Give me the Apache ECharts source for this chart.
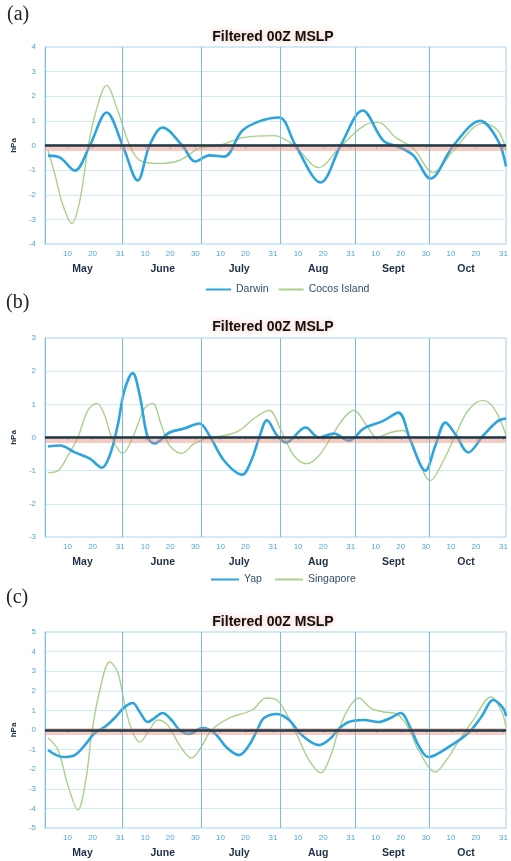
<!DOCTYPE html>
<html>
<head>
<meta charset="utf-8">
<script src="https://cdn.jsdelivr.net/npm/echarts@6.0.0/dist/echarts.min.js"></script>
<style>
html,body{margin:0;padding:0;background:#fff;}
#main{width:511px;height:861px;}
</style>
</head>
<body>
<div id="main"></div>
<script>
// day 0 = 1 May
var tickDays   = [9,19,30, 40,50,60, 70,80,91, 101,111,122, 132,142,152, 162,172,183];
var tickLabels = ['10','20','31','10','20','30','10','20','31','10','20','31','10','20','30','10','20','31'];
var monthDays  = [15,47,77.5,109,139,168];
var monthNames = ['May','June','July','Aug','Sept','Oct'];
var monthLines = [31,62.5,94,124,153.5];

// (a) Darwin / Cocos Island
var darwinDays = [1.2,6,11.9,17.9,24.6,31,37,41.7,46.9,54.8,60,65.6,71.5,78.7,86,93.4,100,110,118,126.8,135,141,147,153.8,163,173.7,180.8,184];
var darwinVals = [-0.41,-0.49,-1.02,0,1.34,0,-1.42,0,0.73,0,-0.65,-0.4,-0.45,0.6,1.0,1.14,0,-1.5,0,1.42,0.2,-0.05,-0.4,-1.34,0,1.0,0.2,-0.85];
var cocosDays = [1.2,4,7.2,10.7,13.9,17,19.9,24.6,29,33.8,37.8,45.7,53.7,61.6,69.6,79.5,91.4,99.4,109.3,117.2,127.2,133.1,139.9,147,155,163,174.9,180.8,184];
var cocosVals = [-0.2,-1.2,-2.44,-3.17,-2.24,-0.2,1.22,2.44,1.42,0,-0.6,-0.73,-0.6,-0.12,0,0.33,0.4,0,-0.9,-0.12,0.8,0.94,0.33,-0.12,-1.1,-0.2,0.9,0.6,-0.2];

// (b) Yap / Singapore
var yapDays = [1.2,6,11.9,17.9,22.7,25.8,29,31.7,35,37.8,41,43.7,49.7,55.6,61.6,65.6,71.5,78.7,82.3,85.5,88.6,92.6,96.2,104,109.3,115.3,121.2,127.2,135,141,145.9,151.8,155.8,159.8,164.1,168.9,174.9,180.8,184];
var yapVals = [-0.27,-0.24,-0.45,-0.64,-0.91,-0.55,0.36,1.42,1.94,1.27,0,-0.18,0.15,0.27,0.42,0.06,-0.7,-1.12,-0.7,0,0.52,0.06,-0.15,0.3,0,0.12,-0.1,0.27,0.5,0.75,-0.1,-1.0,-0.24,0.45,0.06,-0.45,0.06,0.5,0.57];
var singDays = [1.2,5.2,9.1,13.1,17.1,20.7,23.8,26.6,31,35,39.7,42.9,46.5,49.7,54.5,59.6,65.6,71.5,77.5,83.5,89.4,94.2,99.4,104.5,109.3,114.1,119.2,123.2,128.4,132.4,137.9,143,148.2,153.8,159,163.4,168.9,174.9,179.7,184];
var singVals = [-1.06,-1.0,-0.55,0,0.82,1.03,0.67,0,-0.48,0,0.88,1.03,0.36,-0.24,-0.48,-0.18,0,0.06,0.21,0.58,0.82,0.21,-0.55,-0.79,-0.55,0,0.58,0.82,0.36,0,0.15,0.21,-0.55,-1.3,-0.7,0,0.82,1.12,0.82,0.06];

// (c)
var c1Days = [1.2,7.2,11.9,15.9,19.9,23.8,27.8,31.8,35,37.8,41,43.7,46.9,50.5,53.7,57.6,62.8,67.6,72.7,77.5,81.5,84.7,87.4,92.6,97.4,102.5,109.3,114.1,117.2,121.2,127.2,133.1,137.9,141.9,145.9,149,153,161,168.9,174.1,178.9,182.8,184];
var c1Vals = [-1.02,-1.38,-1.28,-0.77,-0.15,0.15,0.61,1.17,1.38,0.92,0.41,0.61,0.87,0.51,0,-0.2,0.1,-0.15,-0.92,-1.28,-0.77,0,0.61,0.82,0.51,-0.26,-0.77,-0.41,0.05,0.41,0.51,0.41,0.61,0.87,0.1,-0.77,-1.38,-0.87,-0.15,0.66,1.53,1.12,0.71];
var c2Days = [1.2,5.2,9.1,13.1,16.3,18.7,21.9,25.8,29,31.8,34.6,37.8,41.7,44.9,48.9,53.7,58.4,62.8,66.4,73.5,82.7,88.2,92.6,96.6,100.6,105.3,110.1,114.1,117.2,121.2,125.2,130,135.1,140.3,145.1,149,155.8,160.2,164.9,170.9,178,182,184];
var c2Vals = [-0.41,-1.02,-2.8,-4.08,-2.55,-0.1,2.04,3.47,2.96,1.28,0,-0.61,0,0.51,0.26,-0.77,-1.43,-0.77,0,0.61,1.02,1.63,1.53,0.77,-0.26,-1.53,-2.19,-1.28,0,1.12,1.63,1.12,0.92,0.82,0.1,-1.02,-2.14,-1.53,-0.61,0.51,1.68,1.02,0.15];

var FONT = 'Liberation Sans';
var BLUE = '#2ea4dd';
var GREEN = '#a9d18e';

function zip(a, b) {
    return a.map(function (d, i) { return [d, b[i]]; });
}

var grids = [
    {left: 45, top: 47, width: 463, height: 197},
    {left: 45, top: 338, width: 463, height: 199},
    {left: 45, top: 632, width: 463, height: 196}
];
var yRanges = [[-4, 4], [-3, 3], [-5, 5]];

var xAxes = [], yAxes = [];
grids.forEach(function (g, i) {
    g.show = true;
    g.borderColor = '#a6d3ee';
    g.borderWidth = 1;
    xAxes.push({
        type: 'value', gridIndex: i, min: 0, max: 184,
        axisLine: {lineStyle: {color: '#7cc0e6'}},
        axisTick: {show: true, customValues: tickDays, length: 3, lineStyle: {color: '#7cc0e6'}},
        splitLine: {show: false},
        axisLabel: {
            customValues: tickDays, color: '#4ea8dc', fontSize: 8, fontFamily: FONT, margin: 6,
            formatter: function (v) {
                var k = tickDays.indexOf(v);
                return k >= 0 ? tickLabels[k] : '';
            }
        }
    });
    xAxes.push({
        type: 'value', gridIndex: i, min: 0, max: 184, position: 'bottom', offset: 12,
        axisLine: {show: false}, axisTick: {show: false}, splitLine: {show: false},
        axisLabel: {
            customValues: monthDays, color: '#1d2f45', fontSize: 10.5, fontWeight: 'bold', fontFamily: FONT,
            formatter: function (v) {
                var k = monthDays.indexOf(v);
                return k >= 0 ? monthNames[k] : '';
            }
        }
    });
    yAxes.push({
        type: 'value', gridIndex: i, min: yRanges[i][0], max: yRanges[i][1], interval: 1,
        name: 'hPa', nameLocation: 'middle', nameGap: 26, nameRotate: 90,
        nameTextStyle: {fontSize: 8, fontWeight: 'bold', color: '#223344', fontFamily: FONT},
        axisLine: {show: true, lineStyle: {color: '#7cc0e6'}},
        axisTick: {show: false},
        axisLabel: {color: '#4ea8dc', fontSize: 8, fontFamily: FONT, margin: 9},
        splitLine: {show: true, lineStyle: {color: '#d2e9f6', width: 1}}
    });
});

function monthMark() {
    return {
        silent: true, symbol: 'none', label: {show: false},
        lineStyle: {color: '#79bde4', width: 1, type: 'solid'},
        data: monthLines.map(function (d) { return {xAxis: d}; })
    };
}
function zeroMark() {
    return {
        silent: true, symbol: 'none', label: {show: false},
        data: [
            {yAxis: -0.06, lineStyle: {color: 'rgba(238,140,120,0.45)', width: 7, type: 'solid'}},
            {yAxis: 0, lineStyle: {color: '#1b3a4a', width: 2.5, type: 'solid'}}
        ]
    };
}
function thin(name, data, i) {
    return {
        name: name, type: 'line', xAxisIndex: i * 2, yAxisIndex: i, data: data,
        smooth: 0.35, symbol: 'none', lineStyle: {color: GREEN, width: 1.4}, itemStyle: {color: GREEN},
        markLine: monthMark()
    };
}
function thick(name, data, i) {
    return {
        name: name, type: 'line', xAxisIndex: i * 2, yAxisIndex: i, data: data,
        smooth: 0.35, symbol: 'none', lineStyle: {color: BLUE, width: 2.6}, itemStyle: {color: BLUE},
        markLine: zeroMark()
    };
}

var titleStyle = {
    fontSize: 14, fontWeight: 'bold', color: '#111', fontFamily: FONT,
    textShadowColor: 'rgba(240,140,110,0.6)', textShadowBlur: 5
};
var legendStyle = {fontSize: 10.5, color: '#33506a', fontFamily: FONT};

var myChart = echarts.init(document.getElementById('main'));
var option = {
    backgroundColor: '#fff',
    animation: false,
    title: [
        {text: 'Filtered 00Z MSLP', left: 268, top: 25, textAlign: 'center', textStyle: titleStyle},
        {text: 'Filtered 00Z MSLP', left: 268, top: 315, textAlign: 'center', textStyle: titleStyle},
        {text: 'Filtered 00Z MSLP', left: 268, top: 610, textAlign: 'center', textStyle: titleStyle}
    ],
    legend: [
        {data: ['Darwin', 'Cocos Island'], left: 200, top: 279, itemWidth: 25, itemHeight: 10, itemGap: 9,
         itemStyle: {opacity: 0}, textStyle: legendStyle},
        {data: ['Yap', 'Singapore'], left: 205, top: 569, itemWidth: 28, itemHeight: 10, itemGap: 12,
         itemStyle: {opacity: 0}, textStyle: legendStyle}
    ],
    graphic: [
        {type: 'text', left: 7, top: 5, style: {text: '(a)', fontSize: 20, fontFamily: 'Liberation Serif', fill: '#222'}},
        {type: 'text', left: 6, top: 293, style: {text: '(b)', fontSize: 20, fontFamily: 'Liberation Serif', fill: '#222'}},
        {type: 'text', left: 6, top: 588, style: {text: '(c)', fontSize: 20, fontFamily: 'Liberation Serif', fill: '#222'}}
    ],
    grid: grids,
    xAxis: xAxes,
    yAxis: yAxes,
    series: [
        thin('Cocos Island', zip(cocosDays, cocosVals), 0),
        thick('Darwin', zip(darwinDays, darwinVals), 0),
        thin('Singapore', zip(singDays, singVals), 1),
        thick('Yap', zip(yapDays, yapVals), 1),
        thin('(c) thin', zip(c2Days, c2Vals), 2),
        thick('(c) thick', zip(c1Days, c1Vals), 2)
    ]
};
myChart.setOption(option);
</script>
</body>
</html>
